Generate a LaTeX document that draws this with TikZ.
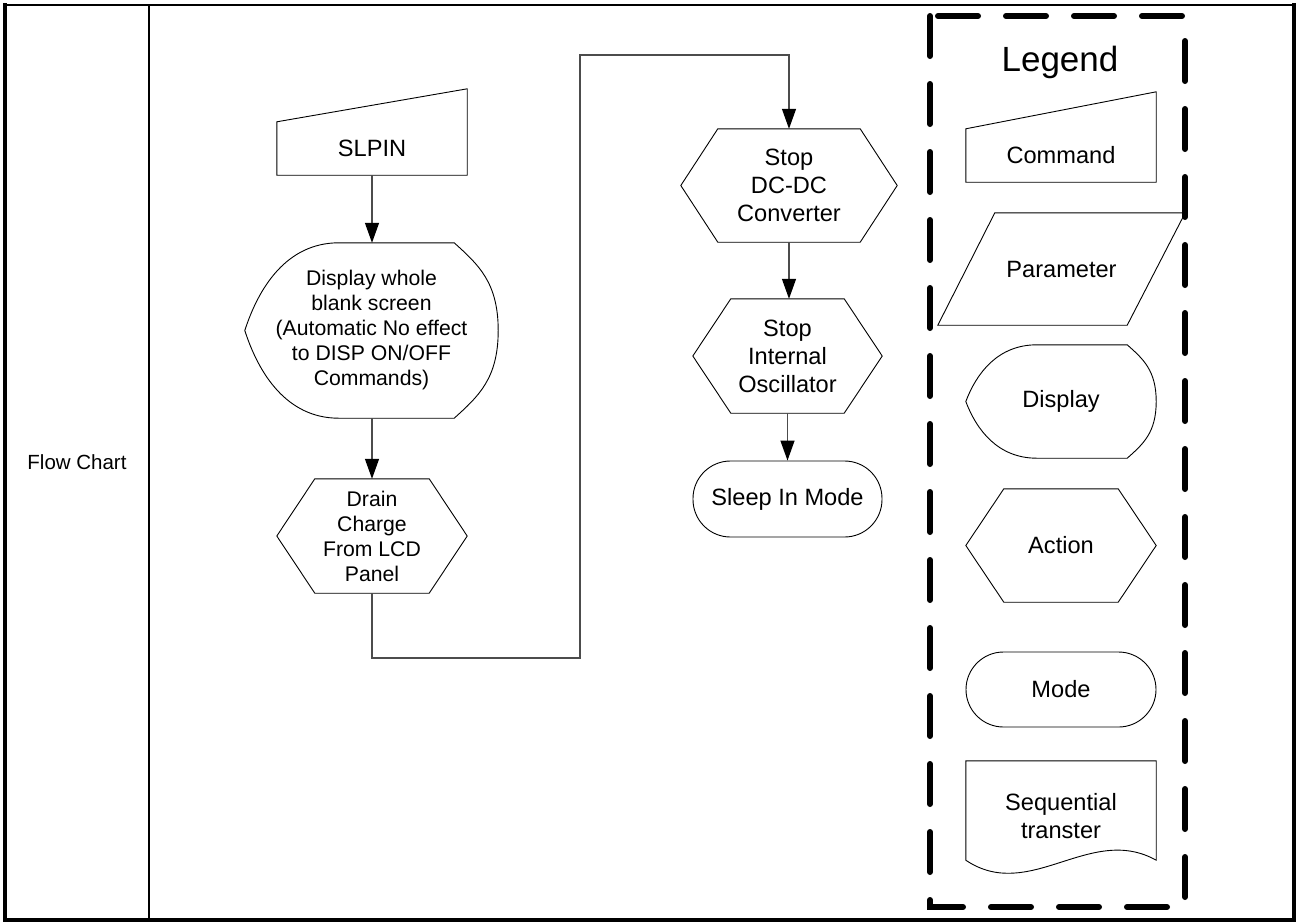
\documentclass[tikz,border=0pt]{standalone}
\usepackage{fontspec}
\setmainfont{Liberation Sans}
\usetikzlibrary{calc,arrows.meta}
\tikzset{
  shp/.style={draw=black, line width=0.9pt},
  box/.style={inner sep=0pt, align=center, text=black},
  fA/.style={font=\fontsize{23.6}{28}\selectfont},
  fB/.style={font=\fontsize{21.2}{25}\selectfont},
  fL/.style={font=\fontsize{35}{40}\selectfont},
  conn/.style={draw=black!70, line width=1.3pt},
  arr/.style={conn, -{Triangle[length=20pt,width=14pt,color=black]}},
}
% hexagon outline around node #1 with inset #2
\newcommand\hexpath[2]{\draw[shp] (#1.west) -- ($(#1.north west)+(#2,0)$) -- ($(#1.north east)+(-#2,0)$) -- (#1.east) -- ($(#1.south east)+(-#2,0)$) -- ($(#1.south west)+(#2,0)$) -- cycle;}
% display outline: #1 node, #2 left flat start, #3 right flat end, #4 half height
\newcommand\disppath[4]{\draw[shp] ($(#1.north west)+(#2,0)$) -- ($(#1.north east)+(-#3,0)$)
  .. controls ($(#1.north east)+({-0.45*#3},{0.25*#4})$) and ($(#1.east)+(0,{-0.55*#4})$) .. (#1.east)
  .. controls ($(#1.east)+(0,{0.55*#4})$) and ($(#1.south east)+({-0.45*#3},{-0.25*#4})$) .. ($(#1.south east)+(-#3,0)$)
  -- ($(#1.south west)+(#2,0)$)
  .. controls ($(#1.south west)+({0.45*#2},0)$) and ($(#1.west)+({0.15*#2},{0.5*#4})$) .. (#1.west)
  .. controls ($(#1.west)+({0.15*#2},{-0.5*#4})$) and ($(#1.north west)+({0.45*#2},0)$) .. cycle;}
% manual input outline: #1 node, #2 rise of top right corner
\newcommand\cmdpath[2]{\draw[shp] (#1.south west) -- (#1.north west) -- ($(#1.north east)+(0,-#2)$) -- (#1.south east) -- cycle;}
\begin{document}
\begin{tikzpicture}[x=1pt,y=-1pt]
\useasboundingbox (0,0) rectangle (1296,922);
% frame
\draw[line width=2.5pt] (3,5) -- (1294,5);
\draw[line width=4pt] (5,3) -- (5,922);
\draw[line width=4pt] (1294,3) -- (1294,922);
\draw[line width=4pt] (3,920) -- (1296,920);
\draw[line width=2.2pt] (149,5) -- (149,920);
\node[box, font=\fontsize{20.5}{24}\selectfont] (lbl) at (77,462) {Flow Chart};

% flow chart
\node[box,fA, minimum width=190pt, minimum height=53pt] (slpin) at (372,148.5) {SLPIN};
\cmdpath{slpin}{33}
\node[box,fB, minimum width=253pt, minimum height=175pt] (disp) at (371.5,330.5) {Display whole\\blank screen\\(Automatic No effect\\to DISP ON/OFF\\Commands)};
\disppath{disp}{94}{44}{87.5}
\node[box,fB, minimum width=190pt, minimum height=114pt] (drain) at (372,536) {Drain\\Charge\\From LCD\\Panel};
\hexpath{drain}{38}
\node[box,fA, minimum width=216pt, minimum height=113pt] (dcdc) at (789,185.5) {Stop\\DC-DC\\Converter};
\hexpath{dcdc}{37}
\node[box,fA, minimum width=189pt, minimum height=114pt] (osc) at (787.5,356) {Stop\\Internal\\Oscillator};
\hexpath{osc}{38}
\node[box,fA, shp, rounded corners=37.5pt, minimum width=189pt, minimum height=76pt] (sleep) at (787.5,499) {Sleep In Mode};

\coordinate (j1) at (580,658);
\coordinate (j2) at (580,55);
\draw[arr] (slpin.south) -- (slpin.south |- disp.north);
\draw[arr] (disp.south -| drain.north) -- (drain.north);
\draw[arr] (drain.south) |- (j1) -- (j2) -| (dcdc.north);
\draw[arr] (dcdc.south) -- (dcdc.south |- osc.north);
\draw[arr] (osc.south) -- (sleep.north);

% legend
\draw[line width=6pt, dash pattern=on 40pt off 28pt, line cap=round] (930,16) rectangle (1185,907);
\node[box,fL] (legend) at (1060,62) {Legend};
\node[box,fA, minimum width=190pt, minimum height=53pt] (cmd) at (1061,155.5) {Command};
\cmdpath{cmd}{37}
\node[box,fA, minimum width=247pt, minimum height=112pt] (param) at (1061.5,269) {Parameter};
\draw[shp] (param.south west) -- ($(param.north west)+(57,0)$) -- (param.north east) -- ($(param.south east)+(-58,0)$) -- cycle;
\node[box,fA, minimum width=190pt, minimum height=113pt] (ldisp) at (1061,401.5) {Display};
\disppath{ldisp}{71}{29}{56.5}
\node[box,fA, minimum width=190pt, minimum height=113pt] (act) at (1061,545.5) {Action};
\hexpath{act}{38}
\node[box,fA, shp, rounded corners=37.5pt, minimum width=190pt, minimum height=75pt] (mode) at (1061,689.5) {Mode};
\node[box,fA, minimum width=190pt, minimum height=110pt] (seq) at (1061,816) {Sequential\\transter};
\draw[shp] (seq.north west) -- (seq.north east) -- ($(seq.south east)+(0,-11)$)
  .. controls ($(seq.south east)+(-66,-48)$) and ($(seq.south west)+(64,32)$) .. ($(seq.south west)+(0,-11)$) -- cycle;
\end{tikzpicture}
\end{document}
